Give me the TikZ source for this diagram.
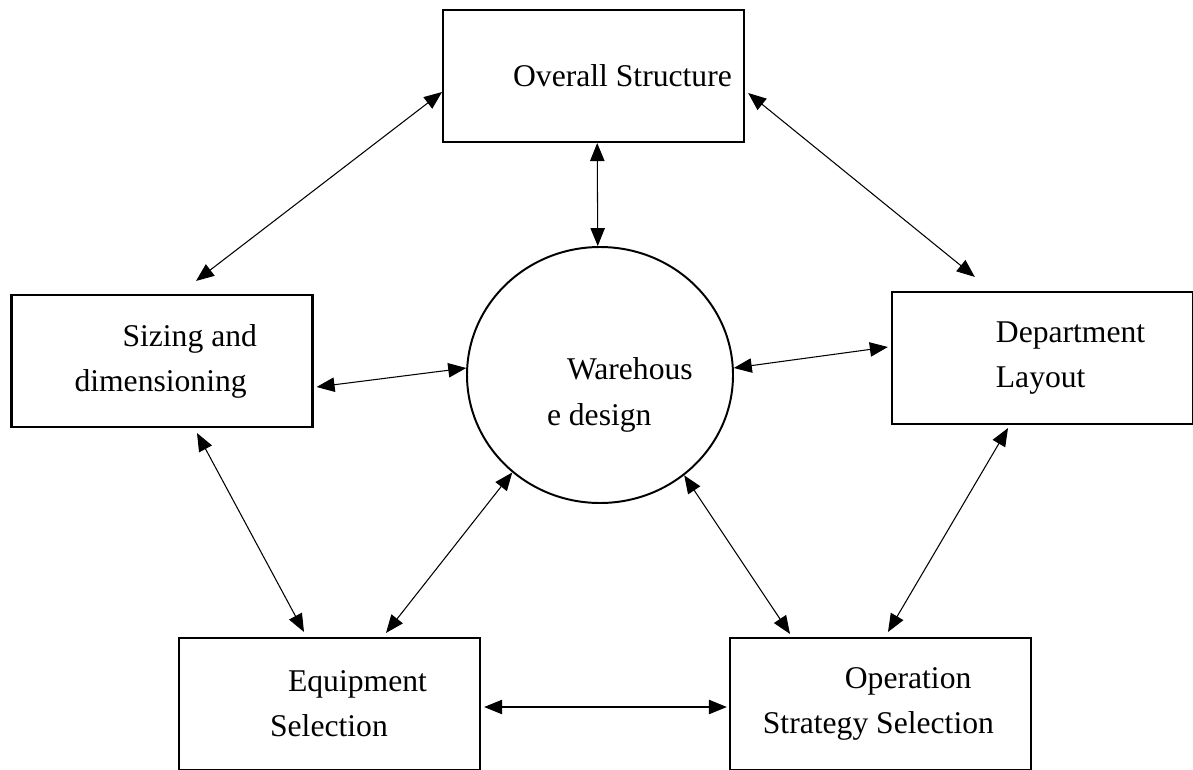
\documentclass[tikz,border=0pt]{standalone}
\usepackage{fontspec}
\setmainfont{Liberation Serif}
\usetikzlibrary{arrows.meta,calc,shapes.geometric}
\newcommand{\boxfont}{\fontsize{22.5}{32}\selectfont}
\newcommand{\hubfont}{\fontsize{22.5}{33}\selectfont}

\begin{document}
\begin{tikzpicture}[thick,
  box/.style={rectangle,draw,line width=1.5pt,minimum width=7.525cm,minimum height=3.3cm,
              inner sep=0pt,text width=7.525cm,align=flush left,font=\boxfont},
  hub/.style={ellipse,draw,line width=1.4pt,minimum width=6.65cm,minimum height=6.4cm,
              inner sep=0pt,text width=4.7cm,align=flush left,font=\hubfont},
  link/.style={{Triangle[length=0.45cm,width=0.36cm]}-{Triangle[length=0.45cm,width=0.36cm]},line width=0.75pt}]

\useasboundingbox (0,0) rectangle (29.825,-19.225);

%Boxes round the hub
  \node[box] (over) at (14.84,-1.9) {\hspace*{1.75cm}Overall Structure};
  \node[box] (size) at (4.05,-9.025) {\hspace*{2.775cm}Sizing and\\\hspace*{1.575cm}dimensioning};
  \node[box] (dept) at (26.06,-8.95) {\hspace*{2.6cm}Department\\\hspace*{2.6cm}Layout};
  \node[box] (equip) at (8.24,-17.6) {\hspace*{2.725cm}Equipment\\\hspace*{2.275cm}Selection};
  \node[box] (oper) at (22.01,-17.6) {\hspace*{2.875cm}Operation\\\hspace*{0.825cm}Strategy Selection};

%The hub
  \node[hub] (ware) at (15.0,-9.375) {\hspace*{1.525cm}\rule{0pt}{1.55cm}\mbox{Warehous}\\\hspace*{1.025cm}e design};

%Links to the top box
  \draw[link] ($(over.west)+(0,-0.4)$) -- ($(size.north)+(0.85,0.325)$);
  \draw[link] ($(over.east)+(0.075,-0.425)$) -- ($(dept.north)+(-1.69,0.35)$);
  \draw[link] ($(over.south)+(0.09,0)$) -- (ware.91);

%Links across the middle
  \draw[link] ($(size.east)+(0.075,-0.65)$) -- (ware.177);
  \draw[link] (ware.3) -- ($(dept.west)+(-0.075,0.275)$);

%Links to the bottom boxes
  \draw[link] ($(size.south)+(0.875,-0.125)$) -- ($(equip.north)+(-0.64,0.125)$);
  \draw[link] (ware.228) -- ($(equip.north)+(1.41,0.1)$);
  \draw[link] (ware.310) -- ($(oper.north)+(-2.26,0.075)$);
  \draw[link] ($(dept.south)+(-0.86,-0.075)$) -- ($(oper.north)+(0.19,0.125)$);
  \draw[link] ($(equip.east)+(0.075,-0.075)$) -- ($(oper.west)+(-0.05,-0.075)$);

\end{tikzpicture}
\end{document}
